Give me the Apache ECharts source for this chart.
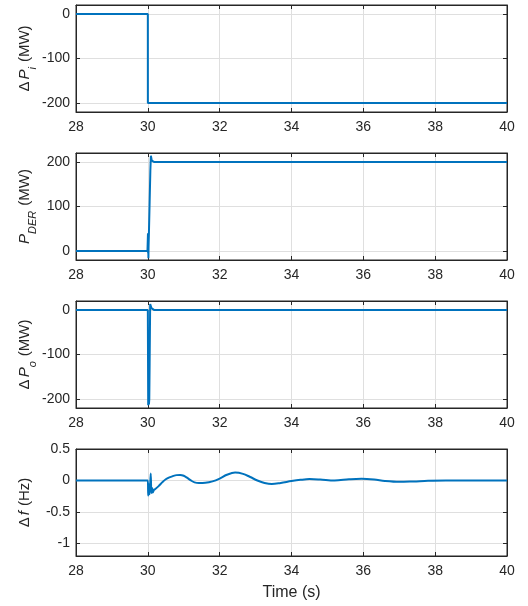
<!DOCTYPE html>
<html><head><meta charset="utf-8">
<script src="https://cdn.jsdelivr.net/npm/echarts@6/dist/echarts.min.js"></script>
<style>html,body{margin:0;padding:0;background:#fff}#c{width:528px;height:606px}</style>
</head><body><div id="c"></div>
<script>
// ---- data ----
const xTickStep = 2;
const yTicks1 = [-200, -100, 0];
const yTicks2 = [0, 100, 200];
const yTicks3 = [-200, -100, 0];
const yTicks4 = [-1, -0.5, 0, 0.5];

const tPi = [28, 30, 30.001, 40];
const vPi = [0, 0, -200, -200];

const tDer = [28, 29.99, 30.0, 30.004, 30.008, 30.012, 30.016, 30.02, 30.03, 30.05, 30.07, 30.085, 30.095, 30.11, 30.14, 30.17, 40];
const vDer = [0, 0, 0, 40, -5, 32, -16, 10, 40, 110, 180, 214, 212, 203, 201, 200, 200];

const tPo = [28, 30.0, 30.01, 30.02, 30.03, 30.04, 30.05, 30.065, 30.08, 30.1, 30.13, 30.17, 40];
const vPo = [0, 0, -214, -195, -212, -200, -120, 13, 10, 4, 1, 0, 0];

const tF = [28, 30.0, 30.01, 30.03, 30.05, 30.08, 30.1, 30.12, 30.14, 30.17, 30.2, 30.3, 30.4, 30.5, 30.6, 30.7, 30.8, 30.9, 31.0, 31.1, 31.2, 31.3, 31.42, 31.6, 31.8, 32.0, 32.2, 32.43, 32.65, 32.85, 33.05, 33.25, 33.45, 33.7, 34.0, 34.25, 34.5, 34.8, 35.2, 35.6, 35.95, 36.3, 36.6, 37.0, 37.4, 37.8, 38.3, 39, 40];
const vF = [0, 0, -0.24, -0.06, -0.22, 0.11, -0.2, -0.12, -0.19, -0.15, -0.14, -0.09, -0.03, 0.02, 0.05, 0.07, 0.085, 0.088, 0.075, 0.04, 0.0, -0.03, -0.042, -0.038, -0.015, 0.03, 0.09, 0.125, 0.105, 0.055, 0.0, -0.04, -0.057, -0.04, -0.01, 0.01, 0.022, 0.015, 0.0, 0.018, 0.027, 0.015, -0.008, -0.022, -0.015, -0.005, 0.0, 0, 0];

// ---- chart ----
const FONT = 'Liberation Sans, Arial, Helvetica, sans-serif';
const TXT = '#262626';
const LINE = '#0072BD';
const zip = (a, b) => a.map((t, i) => [t, b[i]]);

const tops = [5, 153, 301, 449];
const H = 107;
const yRanges = [[-220, 20], [-20, 220], [-220, 20], [-1.2, 0.5]];
const yTickSets = [yTicks1, yTicks2, yTicks3, yTicks4];
const names = [
  '{d|Δ}{i|P}{s|i}{u|(MW)}',
  '{i|P}{s|DER}{u|(MW)}',
  '{d|Δ}{i|P}{s|o}{u|(MW)}',
  '{d|Δ}{i|f}{u|(Hz)}'
];
const rich = {
  d: {fontSize: 15, fontFamily: FONT, color: TXT, lineHeight: 26, padding: [0, 2, 0, 0]},
  u: {fontSize: 15, fontFamily: FONT, color: TXT, lineHeight: 26, padding: [0, 0, 0, 5]},
  i: {fontSize: 15, fontFamily: FONT, color: TXT, fontStyle: 'italic', lineHeight: 26},
  s: {fontSize: 11, fontFamily: FONT, color: TXT, fontStyle: 'italic', lineHeight: 13, verticalAlign: 'bottom'}
};

const grid = [], xAxis = [], yAxis = [], series = [];
tops.forEach((top, k) => {
  grid.push({left: 76, right: 21, top: top, height: H, show: true, borderColor: TXT, borderWidth: 1, backgroundColor: '#fff'});
  const common = {type: 'value', gridIndex: k, min: 28, max: 40, interval: xTickStep};
  xAxis.push(Object.assign({}, common, {
    position: 'bottom',
    axisLine: {show: true, onZero: false, lineStyle: {color: TXT, width: 1}},
    axisTick: {show: true, inside: true, length: 4, lineStyle: {color: TXT}},
    axisLabel: {show: true, color: TXT, fontSize: 14, fontFamily: FONT, margin: 8},
    splitLine: {show: true, lineStyle: {color: '#dfdfdf', width: 1}},
    name: k === 3 ? 'Time (s)' : '',
    nameLocation: 'middle', nameGap: 29, nameMoveOverlap: false,
    nameTextStyle: {color: TXT, fontSize: 16, fontFamily: FONT}
  }));
  xAxis.push(Object.assign({}, common, {
    position: 'top',
    axisLine: {show: true, onZero: false, lineStyle: {color: TXT, width: 1}},
    axisTick: {show: true, inside: true, length: 4, lineStyle: {color: TXT}},
    axisLabel: {show: false}, splitLine: {show: false}
  }));
  const yc = {type: 'value', gridIndex: k, min: yRanges[k][0], max: yRanges[k][1]};
  yAxis.push(Object.assign({}, yc, {
    position: 'left',
    axisLine: {show: true, onZero: false, lineStyle: {color: TXT, width: 1}},
    axisTick: {show: true, inside: true, length: 4, lineStyle: {color: TXT}, customValues: yTickSets[k]},
    axisLabel: {show: true, color: TXT, fontSize: 14, fontFamily: FONT, margin: 6, customValues: yTickSets[k]},
    splitLine: {show: true, lineStyle: {color: '#dfdfdf', width: 1}},
    name: names[k], nameLocation: 'middle', nameRotate: 90, nameGap: 38, nameMoveOverlap: false,
    nameTextStyle: {rich: rich}
  }));
  yAxis.push(Object.assign({}, yc, {
    position: 'right',
    axisLine: {show: true, onZero: false, lineStyle: {color: TXT, width: 1}},
    axisTick: {show: true, inside: true, length: 4, lineStyle: {color: TXT}, customValues: yTickSets[k]},
    axisLabel: {show: false}, splitLine: {show: false}
  }));
});

const datasets = [zip(tPi, vPi), zip(tDer, vDer), zip(tPo, vPo), zip(tF, vF)];
datasets.forEach((d, k) => {
  series.push({
    type: 'line', xAxisIndex: 2 * k, yAxisIndex: 2 * k, data: d,
    showSymbol: false, symbol: 'none', animation: false,
    smooth: k === 3 ? 0.35 : false,
    lineStyle: {color: LINE, width: 2}
  });
});

const chart = echarts.init(document.getElementById('c'), null, {renderer: 'canvas'});
chart.setOption({animation: false, grid, xAxis, yAxis, series});
</script></body></html>
